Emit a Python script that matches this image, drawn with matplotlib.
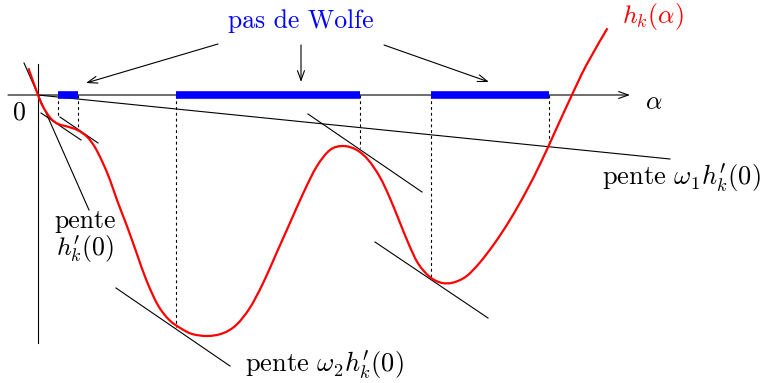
import matplotlib
matplotlib.use("Agg")
import matplotlib.pyplot as plt
from matplotlib.path import Path
from matplotlib.patches import PathPatch

plt.rcParams['mathtext.fontset'] = 'cm'
plt.rcParams['axes.unicode_minus'] = False

# red curve h_k(alpha) (pixel-like schematic coordinates, y downward)
curve_x = [28.4, 38.0, 43.0, 50.6, 58.3, 67.8, 77.4, 87.0, 94.6, 102.3, 110.0, 117.6,
           127.2, 136.7, 146.3, 157.8, 169.3, 180.7, 192.2, 207.5, 222.8, 236.2, 249.6,
           263.0, 276.4, 289.8, 303.2, 316.6, 330.0, 343.4, 356.8, 368.3, 379.7, 389.3,
           398.9, 408.4, 418.0, 429.5, 441.0, 452.5, 465.8, 479.2, 494.6, 509.9, 525.2,
           540.5, 555.8, 571.1, 586.4, 607.4]
curve_y = [68.3, 95.0, 106.7, 118.3, 124.0, 126.7, 130.0, 136.7, 146.7, 161.7, 180.0,
           201.7, 226.7, 253.3, 280.0, 305.0, 320.0, 328.3, 334.0, 336.0, 333.3, 325.0,
           308.3, 283.3, 253.3, 223.3, 193.3, 166.7, 150.0, 146.0, 150.0, 160.0, 176.7,
           196.7, 220.0, 243.3, 263.3, 276.7, 282.7, 282.7, 276.7, 263.3, 243.3, 220.0,
           193.3, 163.3, 130.0, 96.7, 65.0, 28.3]

# Wolfe step intervals on the alpha axis
wolfe_start = [58, 176, 431]
wolfe_end = [78, 360, 549]

# dotted verticals: x and lower end
dot_x = [58, 78, 176, 360, 431, 549]
dot_y = [118, 128, 327, 148, 277, 147]

# tangent segments (x0, y0, x1, y1)
tan_x0 = [24, 41, 60, 116, 308, 375]
tan_y0 = [63, 113, 117, 288, 114, 242]
tan_x1 = [89, 81, 98, 230, 422, 488]
tan_y1 = [210, 140, 143, 366, 192, 318]

# omega1 line
w1_x = [38, 670]
w1_y = [95, 159]

fig = plt.figure(figsize=(7.63, 3.83), dpi=100)
ax = fig.add_axes([0, 0, 1, 1])
ax.set_xlim(0, 763)
ax.set_ylim(383, 0)
ax.axis('off')

lw = 0.8
# axes
ax.annotate('', xy=(630, 95), xytext=(8, 95),
            arrowprops=dict(arrowstyle='->,head_length=0.7,head_width=0.25', lw=lw,
                            color='black', shrinkA=0, shrinkB=0), zorder=1)
ax.plot([38, 38], [64, 343], color='black', lw=lw, zorder=1)

# omega1 line
ax.plot(w1_x, w1_y, color='black', lw=lw, zorder=1)
# tangents
for x0, y0, x1, y1 in zip(tan_x0, tan_y0, tan_x1, tan_y1):
    ax.plot([x0, x1], [y0, y1], color='black', lw=lw, zorder=1)
# dotted lines
for x, y in zip(dot_x, dot_y):
    ax.plot([x, x], [95, y], color='black', lw=lw, linestyle=(0, (2.6, 2.6)), zorder=1)
# blue intervals
for a, b in zip(wolfe_start, wolfe_end):
    ax.plot([a, b], [95, 95], color='#0000ff', lw=5.5, solid_capstyle='butt', zorder=4)

# red curve: smooth Bezier path through the read points
pts = list(zip(curve_x, curve_y))
n = len(pts)
verts = [pts[0]]
codes = [Path.MOVETO]
for i in range(n - 1):
    p0 = pts[i - 1] if i > 0 else pts[i]
    p1 = pts[i]
    p2 = pts[i + 1]
    p3 = pts[i + 2] if i + 2 < n else pts[i + 1]
    c1 = (p1[0] + (p2[0] - p0[0]) / 6, p1[1] + (p2[1] - p0[1]) / 6)
    c2 = (p2[0] - (p3[0] - p1[0]) / 6, p2[1] - (p3[1] - p1[1]) / 6)
    verts += [c1, c2, p2]
    codes += [Path.CURVE4] * 3
ax.add_patch(PathPatch(Path(verts, codes), facecolor='none', edgecolor='#ff0000',
                       lw=1.6, zorder=5))

fs = 18.5
cm = 'cmr10'
ax.text(301, 21, 'pas de Wolfe', color='#0000ff', fontsize=fs, family=cm,
        ha='center', va='center')
astyle = dict(arrowstyle='->,head_length=0.7,head_width=0.25', lw=lw, color='black',
              shrinkA=0, shrinkB=0)
ax.annotate('', xy=(86, 83), xytext=(218, 44), arrowprops=astyle)
ax.annotate('', xy=(301, 82), xytext=(301, 45), arrowprops=astyle)
ax.annotate('', xy=(489, 82), xytext=(384, 45), arrowprops=astyle)

ax.text(653, 16, r'$h_k(\alpha)$', color='#ff0000', fontsize=fs, ha='center', va='center')
ax.text(654, 102, r'$\alpha$', color='black', fontsize=fs, ha='center', va='center')
ax.text(19, 113, '0', color='black', fontsize=fs, family=cm, ha='center', va='center')
ax.text(85, 221, 'pente', color='black', fontsize=fs, family=cm, ha='center', va='center')
ax.text(85, 249, r"$h_k'(0)$", color='black', fontsize=fs, ha='center', va='center')
ax.text(602, 178, r"pente $\omega_1 h_k'(0)$", color='black', fontsize=19, family=cm,
        ha='left', va='center')
ax.text(245, 365, r"pente $\omega_2 h_k'(0)$", color='black', fontsize=19, family=cm,
        ha='left', va='center')

fig.savefig('out.png', dpi=100)
